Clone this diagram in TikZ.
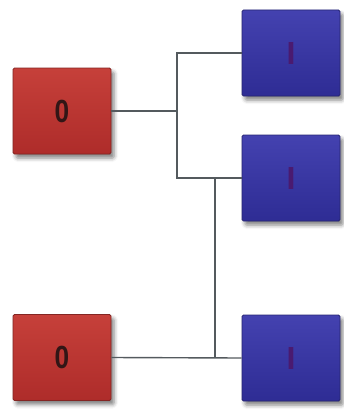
\documentclass[tikz,border=0pt]{standalone}
\usepackage{fontspec}
\setmainfont{Liberation Sans}
\usetikzlibrary{shadows.blur}
\definecolor{boxred}{RGB}{188,54,50}
\definecolor{boxredtop}{RGB}{198,64,58}
\definecolor{boxredbot}{RGB}{174,44,42}
\definecolor{boxblue}{RGB}{56,54,164}
\definecolor{boxbluetop}{RGB}{68,66,176}
\definecolor{boxbluebot}{RGB}{46,44,148}
\definecolor{wire}{RGB}{84,90,94}
\definecolor{zerotext}{RGB}{50,22,22}
\definecolor{onetext}{RGB}{74,26,112}
\newcommand{\narrowdigit}[1]{\scalebox{0.82}[1]{#1}}
\tikzset{
  cell/.style={rectangle, minimum width=98pt, minimum height=86pt, inner sep=0pt,
    rounded corners=1.5pt, line width=0.8pt,
    blur shadow={shadow xshift=3pt, shadow yshift=-4pt, shadow blur radius=4pt, shadow opacity=50}},
  redcell/.style={cell, draw=boxred!70!black, top color=boxredtop, bottom color=boxredbot,
    font=\fontsize{32}{32}\selectfont\bfseries, text=zerotext},
  bluecell/.style={cell, draw=boxblue!70!black, top color=boxbluetop, bottom color=boxbluebot,
    font=\fontsize{32}{32}\selectfont\bfseries, text=onetext},
  link/.style={draw=wire, line width=1.4pt}
}
\begin{document}
\begin{tikzpicture}[x=1pt, y=-1pt]
  \useasboundingbox (0,0) rectangle (343,412);
  % input cells
  \node[redcell] (r1) at (62,111) {\narrowdigit{0}};
  \node[redcell] (r2) at (62,357.5) {\narrowdigit{0}};
  % output cells
  \node[bluecell] (b1) at (291,53) {I};
  \node[bluecell] (b2) at (291,178) {I};
  \node[bluecell] (b3) at (291,358) {I};
  % junction points of the wiring
  \coordinate (j1) at (177,0 |- r1.east);
  \coordinate (j2) at (215,0 |- b2.west);
  \coordinate (j3) at (215,0 |- r2.east);
  % wiring
  \path[link] (r1.east) -- (j1);
  \path[link] (b1.west) -| (j1);
  \path[link] (b2.west) -| (j1);
  \path[link] (j2) -- (j3);
  \path[link] (r2.east) -- (b3.west);
\end{tikzpicture}
\end{document}
